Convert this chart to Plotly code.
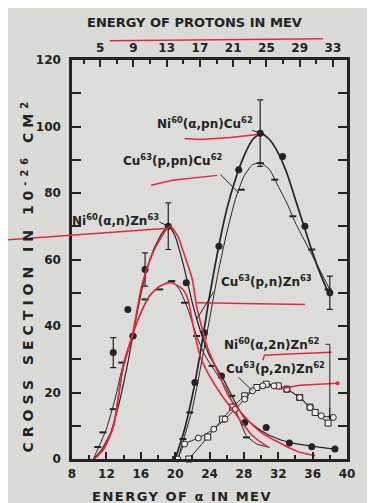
import plotly.graph_objects as go

# ---------------- axis ticks ----------------
alpha_ticks = [8, 12, 16, 20, 24, 28, 32, 36, 40]
proton_ticks = [5, 9, 13, 17, 21, 25, 29, 33]
y_tickvals = [0, 10, 20, 30, 40, 50, 60, 70, 80, 90, 100, 110, 120]
y_ticktext = ["0", "", "20", "", "40", "", "60", "", "80", "", "100", "", "120"]

# ---------------- Ni60(a,n)Zn63 ----------------
an_curve_E = [10.5, 11.5, 12.5, 13.5, 14.5, 15.5, 16.5, 17.5, 18.5, 19.3, 20, 21, 22, 23, 24, 25.4, 27, 28, 30, 32, 34, 36, 38.6]
an_curve_s = [0, 3, 8, 17, 29, 43, 55, 63, 68, 70, 67, 58, 47, 38, 31, 25, 17, 12.5, 8.5, 6, 4.6, 3.8, 3]
an_pts_E = [12.8, 14.5, 15.1, 16.5, 19.2, 21.3, 25.4, 28.1, 30.6, 33.3, 35.9, 38.6]
an_pts_s = [32, 45, 37, 57, 70, 53, 25, 11, 9.5, 4.8, 3.7, 3]
an_err = [4.5, 0, 0, 5, 7, 0, 0, 0, 0, 0, 0, 0]

# ---------------- Cu63(p,n)Zn63 ----------------
pn_curve_E = [10.5, 11, 12, 13, 14, 15, 16, 17, 18, 19, 19.6, 20.5, 21.5, 22.5, 23.5, 24.5, 26, 27, 28.3, 29.5, 31]
pn_curve_s = [0, 3, 9, 18, 29, 37, 44, 49, 51.5, 53, 53.5, 51, 45, 37, 31, 27, 21, 15, 7, 4.5, 3.5]
pn_pts_E = [11, 11.6, 12.8, 13.8, 15.1, 16.5, 18.2, 19.6, 21.1, 22.5, 24.3, 26.6, 28.3]
pn_pts_s = [3.6, 8, 15, 29, 37, 48, 51, 53.5, 47, 37, 28, 19, 6.5]

# ---------------- Ni60(a,pn)Cu62 ----------------
apn_curve_E = [20, 21, 22, 23, 24, 25, 26, 27, 28, 29, 30, 31, 32, 33, 34, 35, 36, 37, 38]
apn_curve_s = [0, 8, 19, 33, 49, 63, 75, 84, 91, 96, 98, 96, 92, 86, 78, 70, 62, 55, 49]
apn_pts_E = [22.3, 23.4, 25.1, 27.4, 29.9, 32.5, 35.1, 38]
apn_pts_s = [23, 38, 64, 87, 98, 91, 70, 50]
apn_err = [0, 0, 0, 0, 10, 0, 0, 5]

# ---------------- Cu63(p,pn)Cu62 ----------------
ppn_curve_E = [20.3, 21, 22, 23, 24, 25, 26, 27, 28, 29, 30, 31, 32, 33, 34, 35, 36, 37, 38]
ppn_curve_s = [0, 6, 15, 28, 42, 56, 68, 78, 85, 88.5, 89, 87, 82, 77, 71, 66, 61, 56, 51]
ppn_pts_E = [20.9, 21.7, 27.7, 29.9, 31.6, 33.7, 35.9, 37.8]
ppn_pts_s = [6, 14, 81, 89, 84, 73, 63, 51]

# ---------------- Ni60(a,2n)Zn62 (open squares) ----------------
a2n_E = [21.6, 23.8, 25.5, 26.7, 28.1, 29.5, 30.6, 32, 33, 34.5, 35.7, 36.3, 37.8]
a2n_s = [0, 6.6, 12, 15.6, 19, 21.5, 22.5, 22, 21, 18.5, 15.6, 14, 10.8]

# ---------------- Cu63(p,2n)Zn62 (open circles) ----------------
p2n_E = [20.3, 21.1, 22.7, 24.5, 25.8, 27, 28.1, 29, 30.2, 31.5, 33, 34.5, 35.7, 37, 38.4]
p2n_s = [0, 4.5, 6.3, 9, 12, 15, 18, 20.5, 22, 22, 21, 18.5, 15.5, 13, 12.5]

# ---------------- red hand-drawn ink (data units) ----------------
red_outer_E = [9.3, 10.1, 11.6, 12.8, 13.9, 15, 16.1, 17.1, 18, 19.4, 20.3, 21, 22, 22.5, 23.7, 25, 26.2, 28, 30, 32.8, 34.5, 36.3]
red_outer_s = [-3, -1.2, 2.7, 9.6, 27, 37, 52, 60, 65, 70, 67, 62, 54, 46, 34, 26, 19, 13, 8, 4, 2, 1]
red_inner_E = [9.3, 10.1, 11.6, 12.8, 13.9, 15, 15.7, 17, 18.2, 19.6, 20.9, 21.5, 22.1, 22.9, 24, 25.2, 27.2, 29, 30.8]
red_inner_s = [-3, -1.2, 2.7, 9.6, 27, 37, 42, 49, 52, 53, 51, 48, 40, 31, 25, 20, 13, 7, 3.6]
red_ul_top_E = [12.4, 37.2]
red_ul_top_s = [125.8, 126.4]
red_ul_an_E = [-0.4, 19.2]
red_ul_an_s = [65.8, 69.4]
red_ul_apn_E = [21.1, 22.9, 26.4, 29.6]
red_ul_apn_s = [96.4, 96.1, 96.7, 97.6]
red_ul_ppn_E = [17.2, 19.7, 24.9]
red_ul_ppn_s = [82.3, 83.8, 85.3]
red_ul_pn_E = [22.5, 35.1]
red_ul_pn_s = [47, 46.5]
red_ul_a2n_E = [30.2, 30.4, 32.6, 38.2]
red_ul_a2n_s = [29.7, 31.2, 31.5, 32.1]
red_ul_p2n_E = [32.0, 34.5, 38.9]
red_ul_p2n_s = [21, 22.2, 22.8]

X_RANGE = [8, 40]
Y_RANGE = [0, 120]
P_RANGE = [1.6, 34.7]

INK = "#232323"
RED = "#e8283a"
BG = "#dadad6"

fig = go.Figure()

def curve(E, s, width=1.1, color=INK, smooth=0.5):
    fig.add_trace(go.Scatter(x=E, y=s, mode="lines",
                             line=dict(color=color, width=width, shape="spline", smoothing=smooth),
                             hoverinfo="skip", showlegend=False))

curve(an_curve_E, an_curve_s, 1.2)
curve(pn_curve_E, pn_curve_s, 1.0)
curve(apn_curve_E, apn_curve_s, 1.7)
curve(ppn_curve_E, ppn_curve_s, 1.0)
curve(a2n_E, a2n_s, 1.0)
curve(p2n_E, p2n_s, 1.0)

# markers
fig.add_trace(go.Scatter(x=an_pts_E, y=an_pts_s, mode="markers",
                         marker=dict(symbol="circle", size=7, color=INK),
                         error_y=dict(type="data", array=an_err, color=INK, thickness=1.2, width=3),
                         showlegend=False))
fig.add_trace(go.Scatter(x=pn_pts_E, y=pn_pts_s, mode="markers",
                         marker=dict(symbol="line-ew", size=5, line=dict(color=INK, width=2)), showlegend=False))
fig.add_trace(go.Scatter(x=apn_pts_E, y=apn_pts_s, mode="markers",
                         marker=dict(symbol="circle", size=7, color=INK),
                         error_y=dict(type="data", array=apn_err, color=INK, thickness=1.2, width=3),
                         showlegend=False))
fig.add_trace(go.Scatter(x=apn_curve_E[:1], y=apn_curve_s[:1], mode="markers", cliponaxis=False,
                         marker=dict(symbol="square", size=6, color=INK), showlegend=False))
fig.add_trace(go.Scatter(x=ppn_pts_E, y=ppn_pts_s, mode="markers",
                         marker=dict(symbol="line-ew", size=5, line=dict(color=INK, width=2)), showlegend=False))
fig.add_trace(go.Scatter(x=a2n_E, y=a2n_s, mode="markers", cliponaxis=False,
                         marker=dict(symbol="square", size=6, color="#ecece8", line=dict(width=1, color=INK)),
                         showlegend=False))
fig.add_trace(go.Scatter(x=p2n_E, y=p2n_s, mode="markers", cliponaxis=False,
                         marker=dict(symbol="circle", size=6, color="#ecece8", line=dict(width=1, color=INK)),
                         showlegend=False))

# red ink curves
curve(red_outer_E, red_outer_s, 1.6, RED, 0.6)
curve(red_inner_E, red_inner_s, 1.6, RED, 0.6)

# dummy trace for proton axis
fig.add_trace(go.Scatter(x=P_RANGE, y=[None, None], xaxis="x2", mode="lines", showlegend=False, hoverinfo="skip"))

def to_paper(E, s):
    return ([(e - X_RANGE[0]) / (X_RANGE[1] - X_RANGE[0]) for e in E],
            [(v - Y_RANGE[0]) / (Y_RANGE[1] - Y_RANGE[0]) for v in s])

def red_path(E, s):
    px, py = to_paper(E, s)
    d = "M " + " L ".join(f"{a},{b}" for a, b in zip(px, py))
    fig.add_shape(type="path", path=d, xref="paper", yref="paper",
                  line=dict(color=RED, width=1.5))

for E, s in [(red_ul_top_E, red_ul_top_s), (red_ul_an_E, red_ul_an_s), (red_ul_apn_E, red_ul_apn_s),
             (red_ul_ppn_E, red_ul_ppn_s), (red_ul_pn_E, red_ul_pn_s), (red_ul_a2n_E, red_ul_a2n_s),
             (red_ul_p2n_E, red_ul_p2n_s)]:
    red_path(E, s)
fig.add_trace(go.Scatter(x=red_ul_p2n_E[-1:], y=red_ul_p2n_s[-1:], mode="markers",
                         marker=dict(color=RED, size=4), showlegend=False, cliponaxis=False))

# reaction labels
LF = dict(family="DejaVu Sans", size=12, color=INK, weight="bold")
def label(text, x, y):
    fig.add_annotation(text=text, x=x, y=y, xref="x", yref="y", showarrow=False, font=LF,
                       xanchor="center", yanchor="middle")

label("Ni<sup>60</sup>(α,pn)Cu<sup>62</sup>", 23.5, 101)
label("Cu<sup>63</sup>(p,pn)Cu<sup>62</sup>", 19.7, 90)
label("Ni<sup>60</sup>(α,n)Zn<sup>63</sup>", 13.1, 72)
label("Cu<sup>63</sup>(p,n)Zn<sup>63</sup>", 30.6, 53.5)
label("Ni<sup>60</sup>(α,2n)Zn<sup>62</sup>", 31.3, 34.5)
label("Cu<sup>63</sup>(p,2n)Zn<sup>62</sup>", 31.7, 27.5)

# leader lines from labels to curves
leaders = [
    (apn_pts_E[4], apn_pts_s[4], 28.8, 99),
    (ppn_pts_E[2] - 0.3, ppn_pts_s[2] - 1, 25.1, 86),
    (an_pts_E[4], an_pts_s[4], 18.0, 71.5),
    (pn_curve_E[13], pn_curve_s[13] + 5, 24.6, 50.8),
    (p2n_E[7], p2n_s[7], 27.2, 25),
]
for x1, y1, x0, y0 in leaders:
    fig.add_annotation(x=x1, y=y1, ax=x0, ay=y0, axref="x", ayref="y", xref="x", yref="y",
                       text="", showarrow=True, arrowhead=0, arrowwidth=1, arrowcolor=INK)
# bracket for Ni60(a,2n)Zn62
fig.add_shape(type="path", xref="x", yref="y",
              path=f"M 37.5,34.5 L 38.0,34.5 L 38.0,{a2n_s[-1] + 1}", line=dict(color=INK, width=1))
fig.add_annotation(x=a2n_E[-1] + 0.2, y=a2n_s[-1] + 1, ax=38.0, ay=a2n_s[-1] + 5, axref="x", ayref="y",
                   text="", showarrow=True, arrowhead=2, arrowsize=0.8, arrowwidth=1, arrowcolor=INK)

TF = dict(family="DejaVu Sans", size=13, color=INK, weight="bold")
fig.add_annotation(text='<span style="letter-spacing:5px">CROSS SECTION IN 10<sup>-26</sup> CM<sup>2</sup></span>',
                   xref="paper", yref="paper", xanchor="center", yanchor="middle",
                   x=-0.16, y=0.46, textangle=-90, showarrow=False,
                   font=dict(family="DejaVu Sans", size=14, color=INK, weight="bold"))
fig.add_annotation(text='<span style="letter-spacing:1.5px">ENERGY OF α IN MEV</span>',
                   xref="paper", yref="paper", x=0.40, y=-0.093, xanchor="center", yanchor="middle",
                   showarrow=False, font=TF)
fig.add_annotation(text="ENERGY OF PROTONS IN MEV", xref="paper", yref="paper", x=0.447, y=1.095,
                   xanchor="center", yanchor="middle", showarrow=False, font=TF)

tickfont = dict(family="DejaVu Sans", size=12, color=INK, weight="bold")
# the page body adds an 8px white border at top/left, so the figure is 8px smaller
fig.update_layout(
    width=367, height=495,
    margin=dict(l=64, r=28, t=52, b=44, autoexpand=False),
    paper_bgcolor=BG, plot_bgcolor="#dcdcd8",
    showlegend=False,
    xaxis=dict(range=X_RANGE, tickvals=alpha_ticks, ticktext=[str(t) for t in alpha_ticks],
               ticks="inside", ticklen=7, tickwidth=1.5, tickcolor=INK, automargin=False,
               ticklabelstandoff=2,
               minor=dict(dtick=2, ticks="inside", ticklen=4, tickcolor=INK),
               showline=True, linecolor=INK, linewidth=2.5, mirror=True,
               showgrid=False, zeroline=False, tickfont=tickfont),
    xaxis2=dict(range=P_RANGE, overlaying="x", side="top", tickvals=proton_ticks,
                ticktext=[str(t) for t in proton_ticks], automargin=False,
                ticks="inside", ticklen=7, tickwidth=1.5, tickcolor=INK, ticklabelstandoff=5,
                minor=dict(dtick=2, tick0=1, ticks="inside", ticklen=4, tickcolor=INK),
                showline=False, showgrid=False, zeroline=False, tickfont=tickfont),
    yaxis=dict(range=Y_RANGE, tickvals=y_tickvals, ticktext=y_ticktext, automargin=False,
               ticks="inside", ticklen=9, tickwidth=1.5, tickcolor=INK, ticklabelstandoff=6,
               showline=True, linecolor=INK, linewidth=2.5, mirror="ticks",
               showgrid=False, zeroline=False, tickfont=tickfont),
)

fig.write_html("out.html")
